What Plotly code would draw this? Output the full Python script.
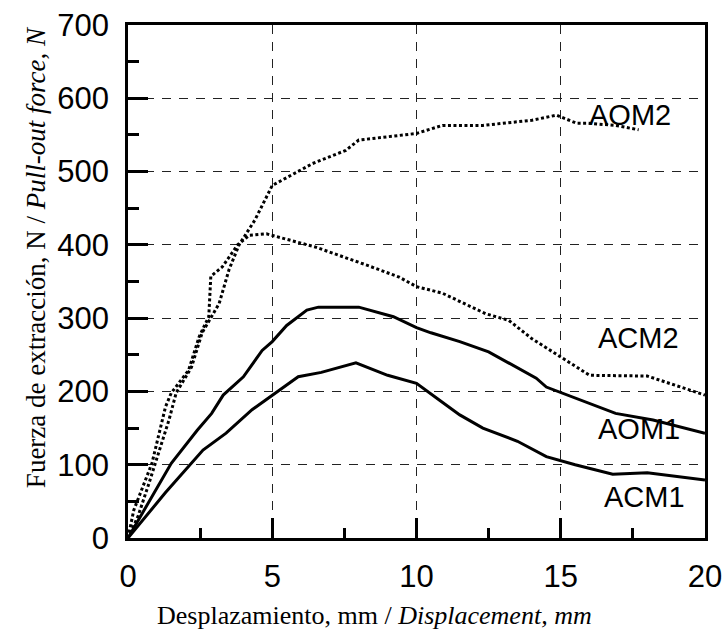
import plotly.graph_objects as go

# ---- data ----
acm1_x = [0, 1.3, 2.6, 3.4, 4.3, 5.1, 5.9, 6.7, 7.9, 9.0, 10.0, 10.8, 11.5, 12.3, 13.5, 14.5, 15.5, 16.8, 18.0, 20.0]
acm1_y = [0, 62, 120, 143, 175, 198, 220, 226, 239, 222, 211, 188, 168, 150, 132, 111, 100, 87, 89, 79]

aom1_x = [0, 1.5, 2.4, 2.9, 3.3, 4.0, 4.65, 5.0, 5.5, 6.2, 6.6, 8.0, 9.2, 10.0, 10.5, 11.5, 12.5, 13.5, 14.15, 14.5, 15.1, 15.55, 16.9, 18.2, 20.0]
aom1_y = [0, 102, 147, 170, 195, 220, 256, 268, 290, 311, 315, 315, 302, 287, 280, 268, 254, 232, 218, 206, 197, 191, 170, 161, 143]

acm2_x = [0, 0.2, 0.83, 1.3, 1.5, 2.1, 2.47, 2.8, 2.87, 3.27, 3.8, 4.2, 4.8, 6.5, 8.3, 9.4, 10.0, 10.9, 12.4, 13.2, 14.0, 15.0, 16.0, 18.0, 20.0]
acm2_y = [0, 38, 102, 179, 198, 229, 275, 302, 357, 370, 400, 413, 415, 397, 372, 356, 343, 334, 306, 297, 272, 247, 222, 221, 195]

aom2_x = [0, 0.35, 0.73, 1.42, 1.67, 2.2, 2.57, 3.16, 3.5, 3.85, 4.4, 5.0, 6.4, 7.55, 8.0, 8.8, 10.0, 10.9, 12.3, 14.0, 14.85, 15.55, 15.9, 16.9, 17.7]
aom2_y = [0, 30, 75, 161, 198, 233, 280, 320, 366, 400, 434, 481, 511, 529, 543, 547, 552, 563, 563, 570, 577, 566, 566, 563, 557]

series_labels = ["AOM2", "ACM2", "AOM1", "ACM1"]
label_x = [17.4, 17.7, 17.7, 17.9]
label_y = [577, 273, 149, 56]

x_ticks = [0, 5, 10, 15, 20]
y_ticks = [0, 100, 200, 300, 400, 500, 600, 700]

x_title = "Desplazamiento, mm / <i>Displacement, mm</i>"
y_title = "Fuerza de extracción, N / <i>Pull-out force, N</i>"

fig = go.Figure()
solid = dict(color="black", width=3)
dotted = dict(color="black", width=3, dash="3px,2.5px")
fig.add_trace(go.Scatter(x=acm1_x, y=acm1_y, mode="lines", line=solid, name="ACM1"))
fig.add_trace(go.Scatter(x=aom1_x, y=aom1_y, mode="lines", line=solid, name="AOM1"))
fig.add_trace(go.Scatter(x=acm2_x, y=acm2_y, mode="lines", line=dotted, name="ACM2"))
fig.add_trace(go.Scatter(x=aom2_x, y=aom2_y, mode="lines", line=dotted, name="AOM2"))

for t, lx, ly in zip(series_labels, label_x, label_y):
    fig.add_annotation(x=lx, y=ly, text=t, showarrow=False, xanchor="center", yanchor="middle",
                       font=dict(family="Liberation Sans, Arial", size=29, color="black"))

fig.add_annotation(xref="paper", yref="paper", x=0.428, y=-0.152, text=x_title, showarrow=False,
                   xanchor="center", yanchor="middle",
                   font=dict(family="Liberation Serif, Times New Roman", size=26, color="black"))
fig.add_annotation(xref="paper", yref="paper", x=-0.159, y=0.548, text=y_title, showarrow=False,
                   xanchor="center", yanchor="middle", textangle=-90,
                   font=dict(family="Liberation Serif, Times New Roman", size=27, color="black"))

axis_common = dict(showline=True, linecolor="black", linewidth=2.5, mirror=True,
                   ticks="inside", tickcolor="black", tickwidth=2.5, ticklen=20,
                   showgrid=True, gridcolor="#222", gridwidth=1, griddash="9px,8px",
                   zeroline=False, automargin=False,
                   tickfont=dict(family="Liberation Sans, Arial", size=31, color="black"))

fig.update_xaxes(range=[0, 20], tickvals=x_ticks, ticktext=[str(v) for v in x_ticks],
                 minor=dict(ticks="inside", ticklen=10, tickwidth=2.5, tickcolor="black",
                            tickvals=[2.5, 7.5, 12.5, 17.5], showgrid=False),
                 ticklabelstandoff=9, **axis_common)
fig.update_yaxes(range=[0, 700], tickvals=y_ticks, ticktext=[str(v) for v in y_ticks],
                 minor=dict(ticks="inside", ticklen=11, tickwidth=2.5, tickcolor="black",
                            tickvals=[50, 150, 250, 350, 450, 550, 650], showgrid=False),
                 ticklabelstandoff=10, **axis_common)

fig.update_layout(width=726, height=632, margin=dict(l=128, r=21, t=25, b=94),
                  paper_bgcolor="white", plot_bgcolor="white", showlegend=False)

fig.write_html("out.html", config={"displayModeBar": False},
               post_script="document.body.style.margin='0';document.body.style.padding='0';")
